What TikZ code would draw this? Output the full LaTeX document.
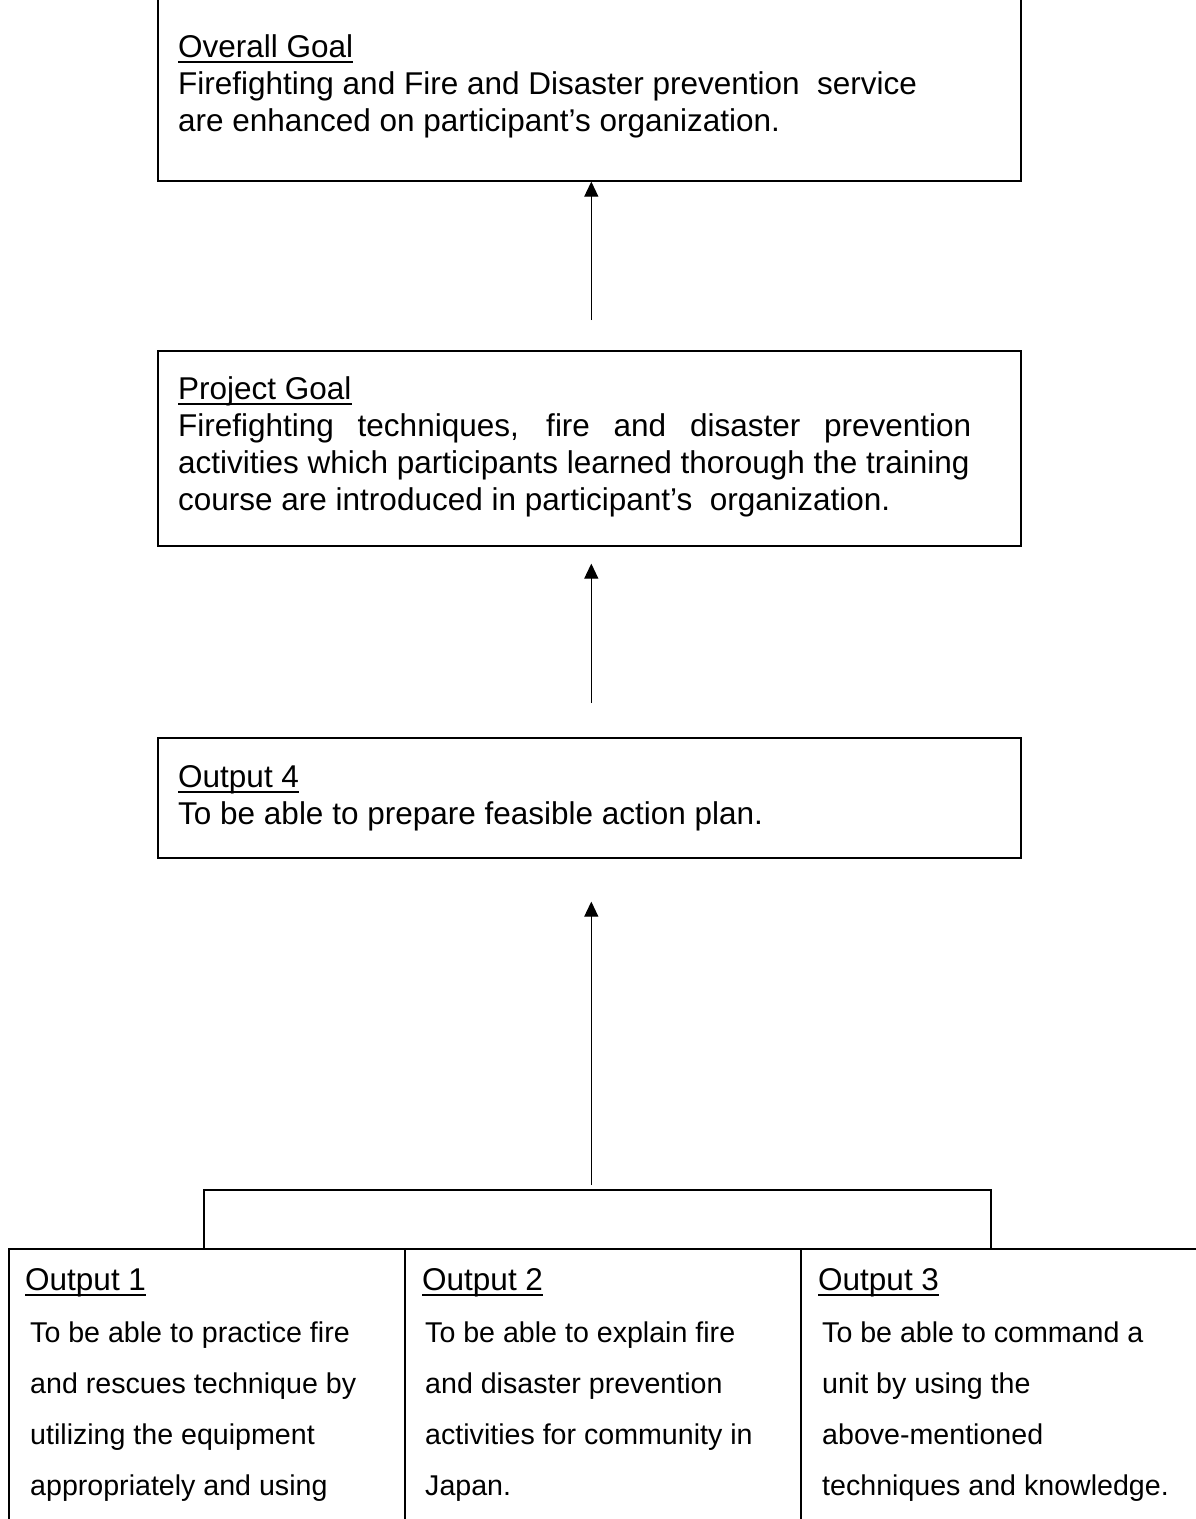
\documentclass[tikz,border=0pt]{standalone}
\usepackage{fontspec}
\setmainfont{Liberation Sans}
\usetikzlibrary{arrows.meta,calc}
\newsavebox{\headbox}
\newcommand{\headline}[1]{\sbox{\headbox}{#1}\rlap{\rule[-6pt]{\wd\headbox}{2pt}}\usebox{\headbox}}
\newcommand{\goalsize}{\fontsize{31.5pt}{37pt}\selectfont}
\newcommand{\rowsize}{\fontsize{28.6pt}{51pt}\selectfont}

\begin{document}
\begin{tikzpicture}[x=1pt,y=-1pt,
    goalbox/.style={draw, line width=1.6pt, minimum width=863pt, inner sep=0pt, anchor=north west},
    rowbox/.style={draw, line width=1.6pt, minimum height=320pt, inner sep=0pt, anchor=north west},
    goaltext/.style={font=\goalsize, align=left, inner sep=0pt, anchor=base west},
    rowhead/.style={font=\goalsize, inner sep=0pt, anchor=base west},
    rowtext/.style={font=\rowsize, align=left, inner sep=0pt, anchor=base west},
    uparrow/.style={line width=1.1pt, -{Triangle[width=14pt,length=15pt]}}]
    \useasboundingbox (0,0) rectangle (1195,1519);
      \node[goalbox, minimum height=200pt] (overall) at (157,-20) {};
      \node[goalbox, minimum height=195pt] (projgoal) at (157,350) {};
      \node[goalbox, minimum height=120pt] (output4) at (157,737) {};
      \node[goalbox, minimum width=787pt, minimum height=59pt] (bracket) at (203,1189) {};
      \node[rowbox, minimum width=396pt] (output1) at (8,1248) {};
      \node[rowbox, minimum width=396pt] (output2) at (404,1248) {};
      \node[rowbox, minimum width=415pt] (output3) at (800,1248) {};
      \node[goaltext] (overalltext) at (178,131)
       {\headline{Overall Goal}\\
        Firefighting and Fire and Disaster prevention \ service\\
        are enhanced on participant’s organization.};
      \node[goaltext] (projgoaltext) at (178,510)
       {\headline{Project Goal}\\
        \makebox[793pt][s]{Firefighting techniques, fire and disaster prevention}\\
        activities which participants learned thorough the training\\
        course are introduced in participant’s \ organization.};
      \node[goaltext] (output4text) at (178,824)
       {\headline{Output 4}\\
        To be able to prepare feasible action plan.};
      \node[rowhead] (output1head) at (25,1290) {\headline{Output 1}};
      \node[rowtext] (output1text) at (30,1495)
       {To be able to practice fire\\
        and rescues technique by\\
        utilizing the equipment\\
        appropriately and using};
      \node[rowhead] (output2head) at (422,1290) {\headline{Output 2}};
      \node[rowtext] (output2text) at (425,1495)
       {To be able to explain fire\\
        and disaster prevention\\
        activities for community in\\
        Japan.};
      \node[rowhead] (output3head) at (818,1290) {\headline{Output 3}};
      \node[rowtext] (output3text) at (822,1495)
       {To be able to command a\\
        unit by using the\\
        above-mentioned\\
        techniques and knowledge.};
      \draw[uparrow, shorten <=30pt] ([xshift=2pt]projgoal.north) -- ([xshift=2pt]overall.south);
      \draw[uparrow, shorten <=34pt, shorten >=17pt] ([xshift=2pt]output4.north) -- ([xshift=2pt]projgoal.south);
      \draw[uparrow, shorten <=4pt, shorten >=43pt] ([xshift=2pt]bracket.north -| output4.south) -- ([xshift=2pt]output4.south);
\end{tikzpicture}
\end{document}
